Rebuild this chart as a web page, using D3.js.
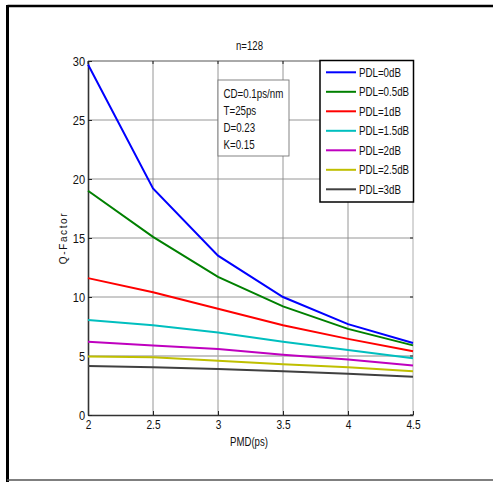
<!DOCTYPE html>
<html>
<head>
<meta charset="utf-8">
<script src="https://cdn.jsdelivr.net/npm/d3@7"></script>
<style>
  html, body { margin: 0; padding: 0; background: #fff; }
  svg { display: block; font-family: "Liberation Sans", Arial, sans-serif; }
</style>
</head>
<body>
<svg id="chart" width="493" height="482"></svg>
<script>
// PMD values (ps) along the x axis
const pmd = [2, 2.5, 3, 3.5, 4, 4.5];

// Q-factor for each PDL setting
const pdl0   = [29.7, 19.2, 13.5, 10.0, 7.7, 6.1];
const pdl05  = [19.0, 15.1, 11.7, 9.2, 7.3, 5.9];
const pdl1   = [11.6, 10.4, 9.0, 7.6, 6.45, 5.4];
const pdl15  = [8.05, 7.6, 7.0, 6.2, 5.5, 4.8];
const pdl2   = [6.2, 5.9, 5.6, 5.1, 4.7, 4.2];
const pdl25  = [4.95, 4.9, 4.6, 4.3, 4.05, 3.7];
const pdl3   = [4.15, 4.05, 3.9, 3.7, 3.5, 3.25];

const seriesNames = ["PDL=0dB", "PDL=0.5dB", "PDL=1dB", "PDL=1.5dB", "PDL=2dB", "PDL=2.5dB", "PDL=3dB"];
const seriesValues = [pdl0, pdl05, pdl1, pdl15, pdl2, pdl25, pdl3];
const seriesColors = ["#0000ff", "#008000", "#ff0000", "#00bfbf", "#bf00bf", "#bfbf00", "#404040"];

const xTicks = [2, 2.5, 3, 3.5, 4, 4.5];
const yTicks = [0, 5, 10, 15, 20, 25, 30];
const noteLines = ["CD=0.1ps/nm", "T=25ps", "D=0.23", "K=0.15"];

const svg = d3.select("#chart");

// condensed text: horizontally squeezed Liberation Sans
function narrowText(parent, px, py, str, size, anchor, squeeze) {
  const g = parent.append("g").attr("transform", `translate(${px},${py}) scale(${squeeze},1)`);
  return g.append("text").attr("x", 0).attr("y", 0)
    .attr("font-size", size).attr("text-anchor", anchor || "start").attr("fill", "#111").text(str);
}

// outer figure frame
svg.append("line").attr("x1", 7.5).attr("x2", 493).attr("y1", 6).attr("y2", 6)
  .attr("stroke", "#000").attr("stroke-width", 2.5);
svg.append("line").attr("x1", 7.5).attr("x2", 7.5).attr("y1", 5).attr("y2", 482)
  .attr("stroke", "#000").attr("stroke-width", 3);
svg.append("line").attr("x1", 7).attr("x2", 493).attr("y1", 480).attr("y2", 480)
  .attr("stroke", "#555").attr("stroke-width", 1.5);

const plotL = 88, plotR = 413, plotT = 61, plotB = 415;
const x = d3.scaleLinear().domain([2, 4.5]).range([plotL, plotR]);
const y = d3.scaleLinear().domain([0, 30]).range([plotB, plotT]);

// grid
const grid = svg.append("g");
grid.selectAll("line.gx").data(xTicks.slice(1, -1)).join("line")
  .attr("x1", d => x(d)).attr("x2", d => x(d)).attr("y1", plotT).attr("y2", plotB)
  .attr("stroke", "#8a8a8a").attr("stroke-width", 0.9);
grid.selectAll("line.gy").data(yTicks.slice(1, -1)).join("line")
  .attr("x1", plotL).attr("x2", plotR).attr("y1", d => y(d)).attr("y2", d => y(d))
  .attr("stroke", d => d === 5 ? "#b0b0b0" : "#8a8a8a").attr("stroke-width", d => d === 5 ? 1.6 : 0.9);

// box around the axes
svg.append("line").attr("x1", plotL).attr("x2", plotR).attr("y1", plotT).attr("y2", plotT)
  .attr("stroke", "#555").attr("stroke-width", 1);
svg.append("line").attr("x1", plotR).attr("x2", plotR).attr("y1", plotT).attr("y2", plotB)
  .attr("stroke", "#999").attr("stroke-width", 0.8);

// axes
const xAxis = d3.axisBottom(x).tickValues(xTicks).tickSize(-4).tickSizeOuter(0)
  .tickFormat(d3.format("~g"));
const yAxis = d3.axisLeft(y).tickValues(yTicks).tickSize(-4).tickSizeOuter(0);

const gx = svg.append("g").attr("transform", `translate(0,${plotB})`).call(xAxis);
gx.select(".domain").attr("stroke", "#333").attr("stroke-width", 1.6);
gx.selectAll(".tick line").attr("stroke", "#222");
gx.selectAll(".tick text").attr("font-size", 13).attr("fill", "#111")
  .attr("font-family", "'Liberation Sans', Arial, sans-serif")
  .attr("y", 5).attr("dy", "0.71em").attr("transform", "scale(0.78,1)");

const gy = svg.append("g").attr("transform", `translate(${plotL},0)`).call(yAxis);
gy.select(".domain").attr("stroke", "#333").attr("stroke-width", 1.6);
gy.selectAll(".tick line").attr("stroke", "#222");
gy.selectAll(".tick text").attr("font-size", 13).attr("fill", "#111")
  .attr("font-family", "'Liberation Sans', Arial, sans-serif")
  .attr("x", -3.5).attr("transform", "scale(0.85,1)");

// tick marks on top and right edges
svg.append("g").selectAll("line").data(xTicks).join("line")
  .attr("x1", d => x(d)).attr("x2", d => x(d)).attr("y1", plotT).attr("y2", plotT + 3)
  .attr("stroke", "#222");
svg.append("g").selectAll("line").data(yTicks).join("line")
  .attr("x1", plotR - 3).attr("x2", plotR).attr("y1", d => y(d)).attr("y2", d => y(d))
  .attr("stroke", "#222");

// data lines
const line = d3.line().x((d, i) => x(pmd[i])).y(d => y(d));
svg.append("g").selectAll("path").data(seriesValues).join("path")
  .attr("d", d => line(d)).attr("fill", "none")
  .attr("stroke", (d, i) => seriesColors[i]).attr("stroke-width", 2);

// title and axis labels
narrowText(svg, 249.5, 50, "n=128", 12, "middle", 0.8);
narrowText(svg, 249, 445.5, "PMD(ps)", 12.5, "middle", 0.77);
svg.append("text").attr("transform", "translate(67,238) rotate(-90)")
  .attr("text-anchor", "middle").attr("font-size", 10).attr("letter-spacing", 1.6)
  .attr("fill", "#111").text("Q-Factor");

// parameter note box
const note = svg.append("g");
note.append("rect").attr("x", 218).attr("y", 80).attr("width", 71).attr("height", 76)
  .attr("fill", "#fff").attr("stroke", "#777").attr("stroke-width", 0.9);
noteLines.forEach((t, i) => narrowText(note, 223.5, 97.8 + i * 17, t, 12.5, "start", 0.78));

// legend
const lg = svg.append("g");
lg.append("rect").attr("x", 320).attr("y", 60.5).attr("width", 93.5).attr("height", 141.5)
  .attr("fill", "#fff").attr("stroke", "#000").attr("stroke-width", 1.5);
seriesNames.forEach((name, i) => {
  const ry = 72.3 + i * 19.5;
  lg.append("line").attr("x1", 326).attr("x2", 356).attr("y1", ry).attr("y2", ry)
    .attr("stroke", seriesColors[i]).attr("stroke-width", 2);
  narrowText(lg, 359, ry + 4.5, name, 12.5, "start", 0.78);
});
</script>
</body>
</html>
